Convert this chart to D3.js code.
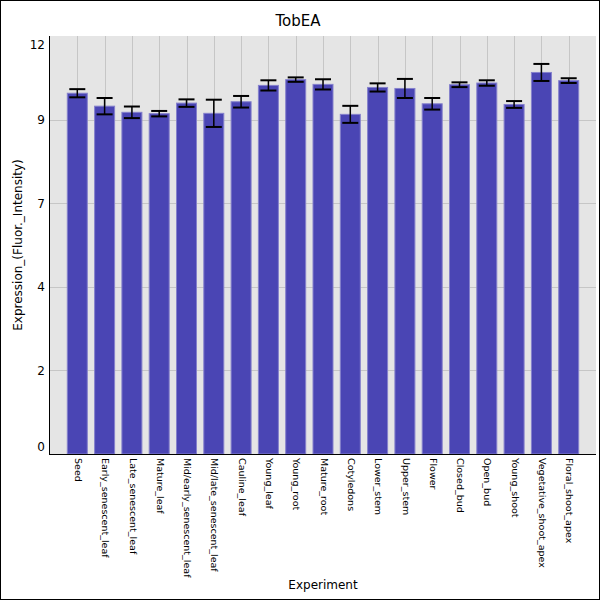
<!DOCTYPE html>
<html>
<head>
<meta charset="utf-8">
<script src="https://cdn.jsdelivr.net/npm/d3@7"></script>
<style>
  body { margin: 0; background: #fff; }
  svg { display: block; font-family: "DejaVu Sans", sans-serif; }
</style>
</head>
<body>
<div id="chart"></div>
<script>
const categories = ["Seed", "Early_senescent_leaf", "Late_senescent_leaf", "Mature_leaf",
  "Mid/early_senescent_leaf", "Mid/late_senescent_leaf", "Cauline_leaf", "Young_leaf",
  "Young_root", "Mature_root", "Cotyledons", "Lower_stem", "Upper_stem", "Flower",
  "Closed_bud", "Open_bud", "Young_shoot", "Vegetative_shoot_apex", "Floral_shoot_apex"];
const values = [10.59, 10.21, 10.03, 9.99, 10.30, 10.00, 10.34, 10.82, 10.99, 10.85,
  9.97, 10.76, 10.73, 10.28, 10.84, 10.89, 10.26, 11.20, 10.96];
const errors = [0.12, 0.24, 0.17, 0.08, 0.11, 0.40, 0.17, 0.15, 0.065, 0.15,
  0.25, 0.12, 0.28, 0.17, 0.07, 0.08, 0.10, 0.25, 0.07];
const yMax = 12.27;
const yTickValues = [0, 2.454, 4.908, 7.362, 9.816, 12.27];
const yTickLabels = ["0", "2", "4", "7", "9", "12"];

const width = 600, height = 600;
const margin = { top: 36, right: 4, bottom: 146, left: 50 };
const plotW = width - margin.left - margin.right,
  plotH = height - margin.top - margin.bottom;

const svg = d3.select("#chart")
  .append("svg")
  .attr("width", width)
  .attr("height", height);

// page frame
svg.append("rect")
  .attr("x", 0.5).attr("y", 0.5)
  .attr("width", width - 1).attr("height", height - 1)
  .attr("fill", "#fff")
  .attr("stroke", "#000");

const g = svg.append("g")
  .attr("transform", `translate(${margin.left}, ${margin.top})`);

const x = d3.scalePoint()
  .domain(categories)
  .range([0, plotW])
  .padding(1);

const y = d3.scaleLinear()
  .domain([0, yMax])
  .range([plotH, 0]);

// plot background
g.append("rect")
  .attr("width", plotW)
  .attr("height", plotH)
  .attr("fill", "#e5e5e5");

// grid lines
g.append("g")
  .selectAll("line")
  .data(yTickValues.slice(1, -1))
  .enter()
  .append("line")
  .attr("x1", 0).attr("x2", plotW)
  .attr("y1", d => Math.round(y(d)) + 0.5)
  .attr("y2", d => Math.round(y(d)) + 0.5)
  .attr("stroke", "#c6c6c6");

g.append("g")
  .selectAll("line")
  .data(categories)
  .enter()
  .append("line")
  .attr("x1", d => Math.round(x(d)) + 0.5)
  .attr("x2", d => Math.round(x(d)) + 0.5)
  .attr("y1", 0).attr("y2", plotH)
  .attr("stroke", "#c6c6c6");

// bars
const barW = 20;
g.selectAll("rect.bar")
  .data(categories)
  .enter()
  .append("rect")
  .attr("class", "bar")
  .attr("x", d => x(d) - barW / 2)
  .attr("y", (d, i) => y(values[i]))
  .attr("width", barW)
  .attr("height", (d, i) => plotH - y(values[i]))
  .attr("fill", "#4a45b4")
  .attr("stroke", "#8581cc")
  .attr("stroke-width", 1);

// error bars
const capW = 16;
const err = g.append("g").attr("stroke", "#000");
categories.forEach((c, i) => {
  const cx = x(c);
  const hi = y(values[i] + errors[i]), lo = y(values[i] - errors[i]);
  err.append("line")
    .attr("x1", cx).attr("x2", cx)
    .attr("y1", hi).attr("y2", lo)
    .attr("stroke-width", 1.5);
  [hi, lo].forEach(v => {
    err.append("line")
      .attr("x1", cx - capW / 2).attr("x2", cx + capW / 2)
      .attr("y1", v).attr("y2", v)
      .attr("stroke-width", 2);
  });
});

// axes lines
g.append("line")
  .attr("x1", -0.5).attr("x2", -0.5)
  .attr("y1", 0).attr("y2", plotH)
  .attr("stroke", "#000");
g.append("line")
  .attr("x1", -1).attr("x2", plotW)
  .attr("y1", plotH + 0.5).attr("y2", plotH + 0.5)
  .attr("stroke", "#000");

// y tick labels (end labels nudged inside, like the original)
g.append("g")
  .selectAll("text")
  .data(yTickValues)
  .enter()
  .append("text")
  .attr("x", -5)
  .attr("y", (d, i) => {
    if (i === 0) return y(d) - 7;
    if (i === yTickValues.length - 1) return y(d) + 9;
    return y(d);
  })
  .attr("dy", "0.36em")
  .attr("text-anchor", "end")
  .style("font-size", "12px")
  .text((d, i) => yTickLabels[i]);

// x tick labels, rotated
g.append("g")
  .selectAll("text")
  .data(categories)
  .enter()
  .append("text")
  .attr("transform", d => `translate(${x(d) + 1}, ${plotH + 4}) rotate(90)`)
  .attr("dy", "0.35em")
  .attr("text-anchor", "start")
  .style("font-size", "9.5px")
  .text(d => d);

// titles
svg.append("text")
  .attr("x", 298)
  .attr("y", 26)
  .attr("text-anchor", "middle")
  .style("font-size", "15px")
  .text("TobEA");

svg.append("text")
  .attr("x", margin.left + plotW / 2)
  .attr("y", 589)
  .attr("text-anchor", "middle")
  .style("font-size", "12px")
  .text("Experiment");

svg.append("text")
  .attr("transform", `translate(22, ${margin.top + plotH / 2}) rotate(-90)`)
  .attr("text-anchor", "middle")
  .style("font-size", "12px")
  .text("Expression_(Fluor._Intensity)");
</script>
</body>
</html>
